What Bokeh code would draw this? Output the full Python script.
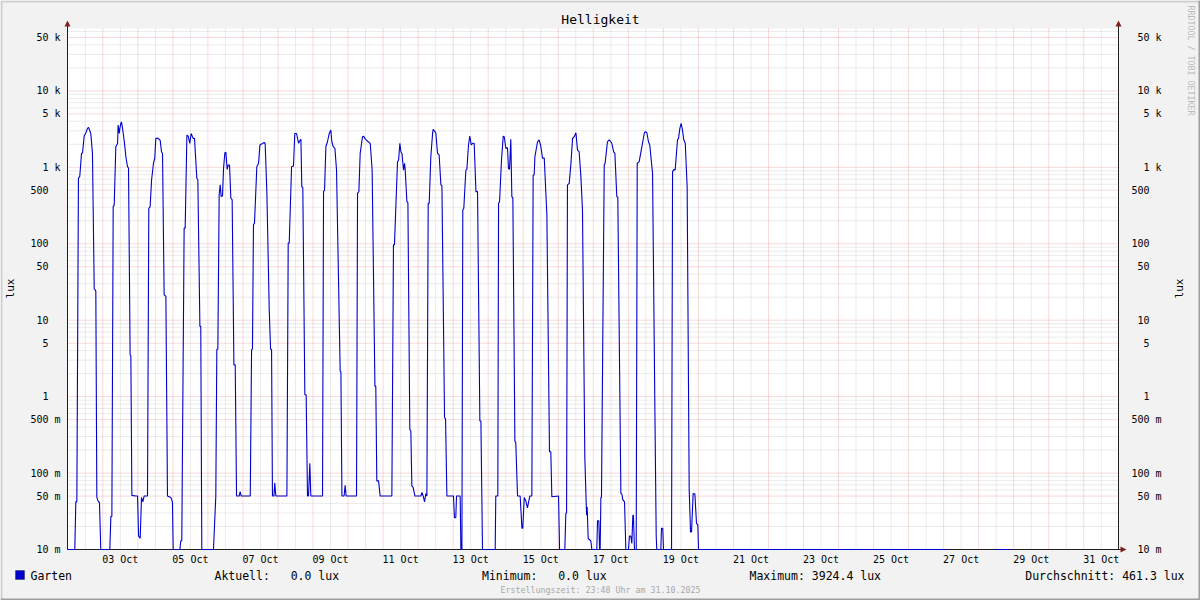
import math
import numpy as np
from bokeh.plotting import figure
from bokeh.models import (Range1d, FixedTicker, LogAxis, Label, BoxAnnotation, PolyAnnotation)
from bokeh.embed import file_html
from bokeh.resources import INLINE

NAN = float("nan")

# ---------------- data (hours since 2025-10-02 00:00, lux; nan = no data) ----------------
hours = [
    -0.2, 4.8, 5.5, 6.2, 7.3, 8.2, 9.4, 10.1, 11.2, 12.4, 13.5, 14.2, 15.1, 15.8, 16.9, 18.1, 19.2, 19.9, 20.8, 21.7, 22.6,
    28.8, 29.5, 30.2, 31.1, 31.8, 32.9, 34.1, 34.5, 35.2, 35.7, 36.3, 36.8, 37.5, 38.6, 39.8, 40.9, 41.6, 42.7, 43.2, 43.9, 46.6, 47.8,
    48.5, 49.6, 50.5, 51.4, 52.3, 54.6, 55.5, 56.4, 57.4, 58.7, 59.6, 60.3, 61.9, 63.3, 64.2, 64.9, 66.0, 67.2, 68.3, 70.6, 71.7, 72.2,
    76.8, 77.4, 78.1, 79.7, 80.4, 81.6, 82.5, 83.6, 84.5, 85.9, 86.8, 88.4, 89.1, 90.5, 91.1, 91.8,
    99.8, 101.4, 102.1, 102.8, 103.7, 104.4, 105.1, 106.0, 106.7, 107.6, 108.3, 109.2, 109.9, 110.8, 111.7, 112.6, 113.8, 114.7, 115.6, 117.4, 118.1, 118.8,
    125.0, 125.9, 126.5, 127.2, 127.9, 129.5, 130.7, 131.6, 133.4, 134.5, 135.2, 136.4, 138.0, 138.9, 139.6, 140.2, 141.2, 141.8, 142.5,
    150.1, 151.0, 151.7, 153.3, 154.6, 155.5, 156.7, 158.1, 159.0, 159.7, 160.3, 161.0, 162.4, 163.3, 164.2, 164.9, 165.8, 166.5,
    174.5, 175.2, 175.9, 176.8, 177.9, 179.1, 180.2, 180.9, 181.8, 183.0, 184.1, 186.6, 187.1, 187.8, 189.3, 190.0, 190.7,
    197.8, 198.5, 199.4, 200.3, 201.9, 202.6, 203.5, 204.4, 205.8, 207.2, 208.5, 210.4, 211.0, 211.7, 212.9, 214.0,
    222.0, 223.1, 223.8, 225.2, 225.9, 226.6, 227.5, 228.2, 228.9, 230.0, 230.7, 231.1, 232.3, 233.0, 234.3, 235.0, 235.7, 236.6, 237.8,
    241.9, 242.6, 243.5, 244.4, 245.3, 246.0, 246.9, 247.6, 248.7, 249.9, 250.3, 251.5, 252.1, 253.3, 254.4, 255.6, 256.3, 258.1, 258.8, 259.7,
    264.2, 264.9, 265.8, 266.3, 268.8, 269.3, 270.0, 270.6, 271.3, 272.7, 273.4, 274.5, 275.4, 276.4, 277.3, 278.4, 279.6, 280.7, 282.3, 283.0, 284.1,
    292.8, 293.2, 294.6, 295.1, 295.8, 297.1, 298.3, 299.0, 300.1, 301.2, 301.9, 302.6, 303.5, 304.2, 304.9, 306.3, 306.9, 308.1,
    309.9, 311.1, 311.7, 312.7, 313.8, 314.9, 316.5, 317.9, 318.8, 319.5, 320.0, 321.8, 322.9, 324.1, 325.2, 326.4, 328.2, 330.0, 330.9, 331.6,
    336.2, 336.9, 340.5, 341.2, 341.7, 342.3, 343.5, 344.6, 345.8, 346.9, 348.1, 349.2, 350.3, 351.5, 352.6, 354.2, 355.4, 355.8, 356.5, 357.2, 358.3, 359.0,
    362.4, 362.9, 363.8, 364.3, 364.7, 365.2, 365.6, 367.5, 368.1, 369.7, 370.9, 372.0, 372.7, 373.9, 374.8, 376.1, 376.8, 378.9, 379.6, 380.2, 381.4, 382.3,
    384.1, 384.8, 385.7, 386.4, 387.1, 387.5, 388.2, 389.4, 390.1, 391.4, 393.7, 394.9, 395.6, 396.7, 397.8, 398.7, 400.6, 402.2, 403.1, 403.5,
    406.3, 406.7, 407.6, 408.1, 413.6, 414.3, 415.4, 416.1, 417.7, 418.4, 419.3, 420.2, 421.1, 422.0, 423.0, 424.3, 425.7, 426.6, 427.3, 428.4, 429.6, 430.7, 431.6, 432.1,
    602.0, 602.1, 634.9, 645.8, 645.9, 719.8,
]
lux = [
    0, 0, 0.042, 0.042, 718, 760, 1520, 1550, 2560, 2830, 3230, 3330, 3010, 2720, 1520, 26, 24, 0.048, 0.043, 0.041, 0,
    0, 0.027, 0.027, 306, 320, 1860, 2050, 3570, 2770, 3230, 3750, 3924.4, 3230, 2270, 1375, 1020, 980, 3.5, 3.4, 0.051, 0.05, 0.05,
    0.015, 0.014, 0.048, 0.042, 0.05, 0.05, 291, 306, 683, 1130, 1320, 2390, 2390, 2250, 1600, 1520, 21.5, 20.5, 0.05, 0.048, 0.042, 0,
    0, 0.013, 0.013, 160, 160, 2640, 2560, 2060, 2770, 2390, 2390, 718, 683, 8.3, 8.3, 0,
    0, 0.05, 4.1, 4.2, 434, 590, 414, 425, 968, 1550, 1570, 940, 1070, 1070, 394, 375, 2.6, 2.6, 0.05, 0.05, 0.057, 0.05,
    0.05, 4.1, 4.2, 177, 186, 1020, 1130, 1960, 2050, 2110, 2050, 457, 13.7, 4.2, 4.1, 0.05, 0.05, 0.074, 0.05,
    0.05, 102, 102, 1020, 1040, 2770, 2770, 2060, 2240, 2330, 558, 550, 1.06, 1.06, 0.05, 0.05, 0.134, 0.05,
    0.05, 481, 506, 1860, 2160, 2770, 3070, 2160, 1860, 1770, 920, 2.15, 2.1, 0.05, 0.05, 0.069, 0.05,
    0.05, 457, 481, 1520, 2510, 2560, 2390, 2290, 2160, 2060, 920, 1.37, 1.37, 0.079, 0.079, 0.05,
    0.05, 97, 97, 531, 1180, 1240, 2060, 1600, 1520, 920, 1130, 960, 356, 345, 0.37, 0.36, 0.068, 0.065, 0.05,
    0.05, 0.056, 0.05, 0.042, 0.054, 0.05, 339, 339, 1375, 2770, 3130, 2930, 2830, 1520, 1450, 588, 570, 0.53, 0.51, 0.05,
    0.05, 0.026, 0.026, 0.05, 0.05, 0, 0, 277, 291, 920, 940, 1960, 2560, 1960, 2060, 2060, 481, 481, 0.48, 0.48, 0,
    0, 0.05, 0.05, 339, 356, 1240, 2560, 2510, 1770, 1800, 960, 940, 2330, 414, 395, 0.26, 0.25, 0.05,
    0.05, 0.019, 0.019, 0.048, 0.043, 0.035, 0.05, 0.05, 793, 793, 1375, 2160, 2290, 1860, 1320, 1320, 238, 0.19, 0.19, 0.049,
    0.05, 0, 0, 0.03, 0.03, 588, 616, 1070, 2390, 2510, 2830, 1680, 1600, 755, 277, 0.16, 0.028, 0.036, 0.014, 0.0135, 0.013, 0,
    0, 0.0237, 0.0237, 0, 0, 0.048, 0.048, 1070, 1130, 2160, 2290, 2160, 2060, 1600, 1520, 414, 405, 0.054, 0.053, 0.045, 0.042, 0,
    0, 0.015, 0.015, 0.012, 0.028, 0.028, 0, 0, 1130, 1180, 2060, 2770, 2930, 2830, 2160, 1960, 834, 0.68, 0.015, 0,
    0, 0.019, 0.019, 0, 0, 877, 940, 920, 2290, 2390, 3230, 3750, 3070, 2290, 2060, 558, 0.06, 0.017, 0.017, 0.054, 0.053, 0.022, 0.021, 0,
    0, NAN, 0, 0, NAN, NAN,
]

y_tick_values = [0.01, 0.05, 0.1, 0.5, 1, 5, 10, 50, 100, 500, 1000, 5000, 10000, 50000]
y_tick_numbers = ["10", "50", "100", "500", "1", "5", "10", "50", "100", "500", "1", "5", "10", "50"]
y_tick_units = ["m", "m", "m", "m", "", "", "", "", "", "", "k", "k", "k", "k"]
y_minor_values = [m * 10.0 ** e for e in range(-2, 5) for m in (2, 3, 4, 6, 7, 8, 9)]

x_tick_hours = [36, 84, 132, 180, 228, 276, 324, 372, 420, 468, 516, 564, 612, 660, 708]
x_tick_labels = ["03 Oct", "05 Oct", "07 Oct", "09 Oct", "11 Oct", "13 Oct", "15 Oct", "17 Oct",
                 "19 Oct", "21 Oct", "23 Oct", "25 Oct", "27 Oct", "29 Oct", "31 Oct"]
x_midnights = [24 * d for d in range(1, 30)]
x_noons = [12 + 24 * d for d in range(0, 30)]

title_text = "Helligkeit"
unit_text = "lux"
series_name = "Garten"
legend_stats = ["Aktuell:   0.0 lux", "Minimum:   0.0 lux", "Maximum: 3924.4 lux", "Durchschnitt: 461.3 lux"]
footer_text = "Erstellungszeit: 23:48 Uhr am 31.10.2025"
watermark_text = "RRDTOOL / TOBI OETIKER"

# ---------------- layout / styles ----------------
MONO = "DejaVu Sans Mono"
BACK = "#F2F2F2"
LINE_COLOR = "#0000CC"
AXIS_COLOR = "#1F1F1F"
ARROW_COLOR = "#801F1F"
NB = "\u00a0"
W, H = 1200, 600
PL, PR, PT, PB = 67, 1118, 28, 549          # plot area in canvas pixels

x_start, x_end = -0.2, 719.8                 # hours shown in the plot area
y_min, y_max = 0.01, 10 ** 4.816             # lux shown in the plot area
kx = (PR - PL) / (x_end - x_start)
ky = (PB - PT) / (math.log10(y_max) - math.log10(y_min))
# the frame covers the whole canvas so that all texts can be drawn inside it
fx0, fx1 = x_start - PL / kx, x_end + (W - PR) / kx
fy0 = 10 ** (math.log10(y_min) - (H - PB) / ky)
fy1 = 10 ** (math.log10(y_max) + PT / ky)

lux_plot = np.clip(np.array(lux, dtype=float), y_min, None)

p = figure(width=W, height=H, output_backend="svg", toolbar_location=None,
           x_range=Range1d(fx0, fx1), y_range=Range1d(fy0, fy1), y_axis_type="log",
           min_border_left=0, min_border_right=0, min_border_top=0, min_border_bottom=0)
p.background_fill_color = BACK
p.border_fill_color = BACK
p.outline_line_color = None
p.xgrid.visible = False
p.ygrid.visible = False

# white canvas of the graph
p.quad(left=[x_start], right=[x_end], bottom=[y_min], top=[y_max],
       fill_color="white", line_color=None, level="image")

# dotted grid (grey minor, red major)
y_minor_in = [v for v in y_minor_values if y_min < v < y_max]
y_major_in = [v for v in y_tick_values if y_min < v < y_max]
GRID_MINOR = dict(line_color="#8F8F8F", line_alpha=0.36, line_dash="1 1", line_width=1, level="underlay")
GRID_MAJOR = dict(line_color="#DE4F4F", line_alpha=0.42, line_dash="1 1", line_width=1, level="underlay")
p.segment(x0=x_noons, x1=x_noons, y0=[y_min] * len(x_noons), y1=[y_max] * len(x_noons), **GRID_MINOR)
p.segment(x0=[x_start] * len(y_minor_in), x1=[x_end] * len(y_minor_in), y0=y_minor_in, y1=y_minor_in, **GRID_MINOR)
p.segment(x0=x_midnights, x1=x_midnights, y0=[y_min] * len(x_midnights), y1=[y_max] * len(x_midnights), **GRID_MAJOR)
p.segment(x0=[x_start] * len(y_major_in), x1=[x_end] * len(y_major_in), y0=y_major_in, y1=y_major_in, **GRID_MAJOR)

# data line (drawn above the axes, as rrdtool does)
p.line(hours, lux_plot, line_color=LINE_COLOR, line_width=1.1, level="overlay")

# axes, fixed at the edges of the graph canvas
padded = {}
for v, n, u in zip(y_tick_values, y_tick_numbers, y_tick_units):
    padded[v] = n.rjust(3, NB) + NB + (u if u else NB)
yt = FixedTicker(ticks=y_tick_values)

def style_axis(ax, standoff):
    ax.major_label_text_font = MONO
    ax.major_label_text_font_size = "10px"
    ax.major_label_text_color = "black"
    ax.major_tick_line_color = None
    ax.minor_tick_line_color = None
    ax.major_tick_in = 0
    ax.major_tick_out = 0
    ax.minor_tick_in = 0
    ax.minor_tick_out = 0
    ax.axis_line_color = AXIS_COLOR
    ax.axis_line_width = 1
    ax.major_label_standoff = standoff

y_axis_top = 10 ** (math.log10(y_max) + 4 / ky)
left_axis = p.yaxis[0]
left_axis.ticker = yt
left_axis.major_label_overrides = padded
left_axis.fixed_location = x_start
left_axis.bounds = (y_min, y_axis_top)
style_axis(left_axis, 7)

right_axis = LogAxis(ticker=yt, major_label_overrides=padded, fixed_location=x_end, bounds=(y_min, y_axis_top))
style_axis(right_axis, 13)
p.add_layout(right_axis, "right")

xa = p.xaxis[0]
xa.ticker = FixedTicker(ticks=x_tick_hours)
xa.major_label_overrides = {h: l for h, l in zip(x_tick_hours, x_tick_labels)}
style_axis(xa, 4)
xa.fixed_location = y_min
xa.bounds = (x_start, x_end + 3 / kx)

# texts
def txt(x, y, text, size, color="black", align="left", baseline="middle", angle=0.0):
    p.add_layout(Label(x=x, y=y, x_units="canvas", y_units="canvas", text=text.replace(" ", NB),
                       text_font=MONO, text_font_size=size, text_color=color,
                       text_align=align, text_baseline=baseline, angle=angle))

txt(600, 19, title_text, "13px", align="center")
txt(10, 288, unit_text, "11px", align="center", angle=math.pi / 2)
txt(1179, 288, unit_text, "11px", align="center", angle=math.pi / 2)
txt(30, 575, series_name, "11.5px")
txt(214, 575, legend_stats[0], "11.5px")
txt(481.5, 575, legend_stats[1], "11.5px")
txt(749, 575, legend_stats[2], "11.5px")
txt(1184, 575, legend_stats[3], "11.5px", align="right")
txt(600, 589.5, footer_text, "8.3px", color="#A8A8A8", align="center")
txt(1190, 5, watermark_text, "8.3px", color="#BBBBBB", align="left", angle=-math.pi / 2)

# legend swatch
p.add_layout(BoxAnnotation(left=15, right=24, top=570, bottom=579,
                           left_units="canvas", right_units="canvas", top_units="canvas", bottom_units="canvas",
                           fill_color=LINE_COLOR, fill_alpha=1.0, line_color="black", line_width=1))

# arrows at the axis ends
arrows = [([67, 64, 70], [20, 26, 26]), ([1118, 1115, 1121], [20, 26, 26]), ([1126, 1120, 1120], [549, 546, 552])]
for xs, ys in arrows:
    p.add_layout(PolyAnnotation(xs=xs, ys=ys, xs_units="canvas", ys_units="canvas",
                                fill_color=ARROW_COLOR, fill_alpha=1.0, line_color=None))

# 3D frame of the image
for l, r, t, b, c in ((0, W, 0, 2, "#CFCFCF"), (0, 2, 0, H, "#CFCFCF"),
                      (0, W, H - 2, H, "#9E9E9E"), (W - 2, W, 0, H, "#9E9E9E")):
    p.add_layout(BoxAnnotation(left=l, right=r, top=t, bottom=b,
                               left_units="canvas", right_units="canvas", top_units="canvas", bottom_units="canvas",
                               fill_color=c, fill_alpha=1.0, line_color=None))

open("out.html", "w").write(file_html(p, INLINE))
